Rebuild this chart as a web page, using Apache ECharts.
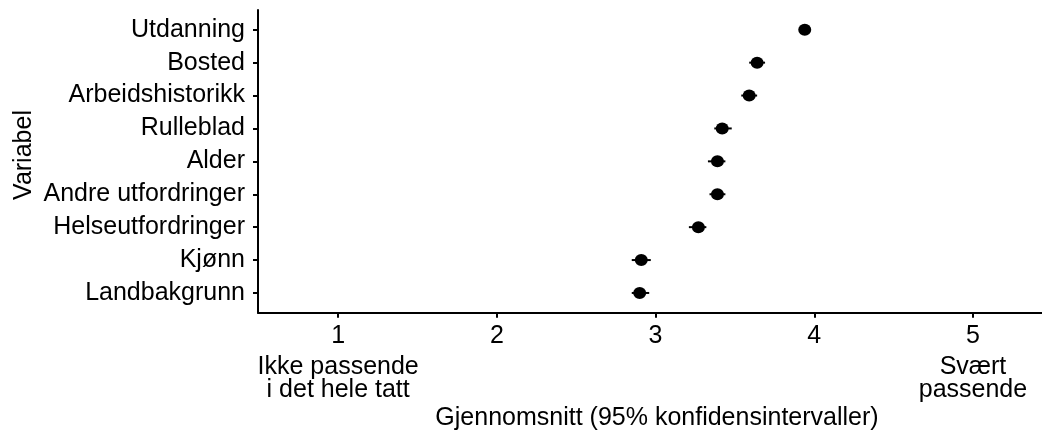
<!DOCTYPE html>
<html>
<head>
<meta charset="utf-8">
<script src="https://cdn.jsdelivr.net/npm/echarts@6/dist/echarts.min.js"></script>
<style>
html,body{margin:0;padding:0;background:#fff;}
#chart{width:1042px;height:436px;}
</style>
</head>
<body>
<div id="chart"></div>
<script>
// Categories from top to bottom
var categories = ['Utdanning','Bosted','Arbeidshistorikk','Rulleblad','Alder','Andre utfordringer','Helseutfordringer','Kjønn','Landbakgrunn'];
// Means and 95% confidence interval bounds
var means = [3.94, 3.64, 3.59, 3.42, 3.39, 3.39, 3.27, 2.91, 2.90];
var lower = [3.91, 3.59, 3.54, 3.37, 3.33, 3.34, 3.21, 2.85, 2.85];
var upper = [3.97, 3.69, 3.64, 3.48, 3.44, 3.44, 3.32, 2.97, 2.96];
// X tick labels
var xTicks = [1, 2, 3, 4, 5];
var xTickDesc = ['Ikke passende\ni det hele tatt', '', '', '', 'Svært\npassende'];
var xTitle = 'Gjennomsnitt (95% konfidensintervaller)';
var yTitle = 'Variabel';

var FONT = '"Liberation Sans", Arial, Helvetica, sans-serif';
var FS = 25;
var chart = echarts.init(document.getElementById('chart'));

var pos = categories.map(function (c, i) { return i + 1; });
var pointData = means.map(function (m, i) { return [m, pos[i]]; });
var barData = means.map(function (m, i) { return [lower[i], upper[i], pos[i]]; });

var option = {
  backgroundColor: '#ffffff',
  animation: false,
  grid: { left: 258, right: 0, top: 10, bottom: 123.3, containLabel: false },
  xAxis: {
    type: 'value',
    min: 0.495,
    max: 5.435,
    splitLine: { show: false },
    axisLine: { show: true, onZero: false, lineStyle: { color: '#000', width: 2 } },
    axisTick: { show: true, length: 5, customValues: xTicks, lineStyle: { color: '#000', width: 2 } },
    axisLabel: {
      customValues: xTicks,
      margin: 3,
      color: '#000',
      fontFamily: FONT,
      fontSize: FS,
      formatter: function (v) {
        var i = xTicks.indexOf(Math.round(v));
        var s = '{n|' + xTicks[i] + '}';
        var d = xTickDesc[i];
        if (d) {
          d.split('\n').forEach(function (line) { s += '\n{t|' + line + '}'; });
        }
        return s;
      },
      rich: {
        n: { fontFamily: FONT, fontSize: FS, lineHeight: 40, color: '#000', align: 'center' },
        t: { fontFamily: FONT, fontSize: FS, lineHeight: 23, color: '#000', align: 'center' }
      }
    }
  },
  yAxis: {
    type: 'value',
    inverse: true,
    min: 0.4,
    max: 9.6,
    splitLine: { show: false },
    axisLine: { show: true, onZero: false, lineStyle: { color: '#000', width: 2 } },
    axisTick: { show: true, length: 5, customValues: pos, lineStyle: { color: '#000', width: 2 } },
    axisLabel: {
      customValues: pos,
      margin: 13,
      color: '#000',
      fontFamily: FONT,
      fontSize: FS,
      formatter: function (v) { return categories[Math.round(v) - 1]; }
    }
  },
  graphic: [
    {
      type: 'text',
      x: 657, y: 418,
      style: { text: xTitle, fontFamily: FONT, fontSize: FS, fill: '#000', textAlign: 'center', textVerticalAlign: 'middle' }
    },
    {
      type: 'text',
      x: 24, y: 155,
      rotation: Math.PI / 2,
      style: { text: yTitle, fontFamily: FONT, fontSize: FS, fill: '#000', textAlign: 'center', textVerticalAlign: 'middle' }
    }
  ],
  series: [
    {
      type: 'custom',
      z: 2,
      data: barData,
      encode: { x: [0, 1], y: 2 },
      renderItem: function (params, api) {
        var p1 = api.coord([api.value(0), api.value(2)]);
        var p2 = api.coord([api.value(1), api.value(2)]);
        return {
          type: 'line',
          shape: { x1: p1[0], y1: p1[1], x2: p2[0], y2: p2[1] },
          style: { stroke: '#000', lineWidth: 2 }
        };
      }
    },
    {
      type: 'scatter',
      z: 3,
      data: pointData,
      symbol: 'circle',
      symbolSize: [13, 12],
      itemStyle: { color: '#000', opacity: 1 },
      emphasis: { disabled: true }
    }
  ]
};
chart.setOption(option);
</script>
</body>
</html>
